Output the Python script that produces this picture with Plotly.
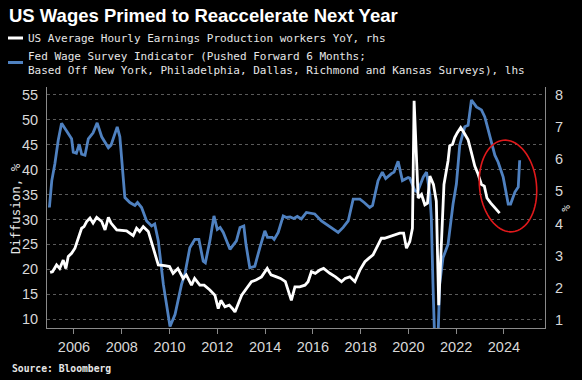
import numpy as np
import plotly.graph_objects as go

# ---- data (decimal years) ----
fed_t = [2004.97, 2005.07, 2005.20, 2005.34, 2005.48, 2005.62, 2005.83, 2005.90, 2005.97, 2006.10,
         2006.22, 2006.32, 2006.46, 2006.60, 2006.80, 2006.97, 2007.16, 2007.44, 2007.55, 2007.81,
         2007.92, 2008.13, 2008.34, 2008.55, 2008.66, 2008.83, 2009.04, 2009.25, 2009.38, 2009.53,
         2009.74, 2009.87, 2010.02, 2010.23, 2010.36, 2010.50, 2010.64, 2010.85, 2011.06, 2011.23,
         2011.41, 2011.50, 2011.69, 2011.86, 2012.00, 2012.12, 2012.25, 2012.53, 2012.80, 2012.95,
         2013.11, 2013.20, 2013.36, 2013.57, 2013.78, 2013.99, 2014.10, 2014.30, 2014.38, 2014.55,
         2014.76, 2014.90, 2015.05, 2015.20, 2015.35, 2015.52, 2015.73, 2016.08, 2016.36, 2016.55,
         2016.78, 2017.06, 2017.27, 2017.48, 2017.69, 2017.97, 2018.15, 2018.38, 2018.50, 2018.73,
         2018.91, 2019.05, 2019.29, 2019.40, 2019.57, 2019.75, 2019.99, 2020.06, 2020.27, 2020.38,
         2020.62, 2020.76, 2020.90, 2020.96, 2021.03, 2021.10, 2021.24, 2021.31, 2021.45, 2021.66,
         2021.87, 2022.01, 2022.15, 2022.36, 2022.50, 2022.64, 2022.85, 2023.06, 2023.20, 2023.41,
         2023.62, 2023.76, 2023.97, 2024.18, 2024.28, 2024.46, 2024.60, 2024.66]
fed_v = [32.4, 37.8, 41.2, 45.9, 49.3, 48.3, 46.9, 46.2, 43.5, 43.3,
         45.1, 43.1, 42.9, 46.2, 47.4, 49.4, 46.6, 44.4, 44.9, 48.6,
         46.6, 34.4, 33.4, 32.8, 33.4, 32.4, 29.7, 28.7, 29.1, 25.7,
         17.0, 13.0, 8.5, 10.9, 13.6, 16.9, 19.0, 24.3, 26.0, 26.0,
         21.6, 21.3, 25.7, 30.7, 28.0, 28.4, 27.4, 24.0, 25.7, 28.4,
         28.7, 25.0, 20.3, 20.6, 24.3, 27.7, 26.4, 26.4, 26.0, 27.4,
         30.7, 30.4, 30.5, 30.2, 30.6, 30.1, 31.4, 31.1, 29.7, 29.1,
         28.4, 27.4, 28.4, 29.7, 34.1, 34.1, 33.4, 32.4, 32.8, 37.8,
         39.5, 38.2, 39.2, 39.5, 41.7, 37.8, 38.4, 38.3, 35.8, 35.5,
         38.5, 39.5, 35.1, 30.4, 17.0, 6.0, 6.0, 17.0, 22.3, 25.0,
         33.1, 37.1, 44.9, 48.6, 48.9, 54.0, 52.6, 52.0, 50.6, 46.6,
         42.9, 41.5, 38.5, 33.1, 33.1, 35.5, 36.5, 41.9]

ahe_t = [2005.00, 2005.10, 2005.27, 2005.40, 2005.55, 2005.66, 2005.76, 2005.90, 2006.04, 2006.18,
         2006.32, 2006.42, 2006.53, 2006.67, 2006.80, 2006.95, 2007.16, 2007.30, 2007.44, 2007.55,
         2007.79, 2008.20, 2008.48, 2008.62, 2008.75, 2008.90, 2009.11, 2009.32, 2009.53, 2009.80,
         2010.00, 2010.15, 2010.35, 2010.57, 2010.70, 2010.92, 2011.05, 2011.27, 2011.45, 2011.69,
         2011.90, 2012.04, 2012.15, 2012.32, 2012.50, 2012.64, 2012.74, 2013.02, 2013.22, 2013.43,
         2013.62, 2013.85, 2014.09, 2014.25, 2014.48, 2014.65, 2014.85, 2014.97, 2015.10, 2015.25,
         2015.45, 2015.67, 2015.80, 2015.94, 2016.10, 2016.29, 2016.45, 2016.71, 2016.95, 2017.20,
         2017.35, 2017.55, 2017.76, 2017.97, 2018.18, 2018.35, 2018.52, 2018.73, 2018.87, 2019.00,
         2019.22, 2019.40, 2019.64, 2019.80, 2019.92, 2020.06, 2020.17, 2020.24, 2020.34, 2020.41,
         2020.55, 2020.69, 2020.80, 2020.90, 2021.05, 2021.17, 2021.27, 2021.38, 2021.49, 2021.66,
         2021.73, 2021.85, 2021.94, 2022.05, 2022.19, 2022.33, 2022.50, 2022.64, 2022.78, 2022.90,
         2023.06, 2023.18, 2023.29, 2023.45, 2023.68, 2023.82]
ahe_v = [2.48, 2.50, 2.71, 2.60, 2.86, 2.60, 2.97, 3.07, 3.23, 3.54,
         3.85, 3.90, 4.06, 4.17, 4.01, 4.19, 4.06, 3.80, 4.19, 4.01,
         3.80, 3.77, 3.62, 3.85, 3.75, 3.90, 3.75, 3.23, 2.71, 2.69,
         2.66, 2.45, 2.60, 2.29, 2.40, 2.08, 2.29, 2.08, 2.08, 1.93,
         1.77, 1.35, 1.61, 1.41, 1.46, 1.35, 1.25, 1.77, 1.98, 2.19,
         2.24, 2.34, 2.60, 2.40, 2.34, 2.29, 2.19, 1.88, 1.61, 2.03,
         2.03, 2.08, 2.19, 2.50, 2.45, 2.55, 2.60, 2.45, 2.34, 2.19,
         2.29, 2.34, 2.19, 2.55, 2.81, 2.92, 3.02, 3.33, 3.54, 3.54,
         3.60, 3.65, 3.70, 3.70, 3.23, 3.44, 3.85, 7.81, 6.25, 4.79,
         4.90, 4.58, 4.63, 5.47, 5.21, 4.69, 1.46, 3.13, 5.21, 5.94,
         6.41, 6.46, 6.67, 6.82, 6.98, 6.82, 6.60, 6.20, 5.78, 5.57,
         5.21, 5.16, 4.79, 4.63, 4.43, 4.32]

x_ticks = [2006, 2008, 2010, 2012, 2014, 2016, 2018, 2020, 2022, 2024]
left_ticks = [10, 15, 20, 25, 30, 35, 40, 45, 50, 55]
right_ticks = [1, 2, 3, 4, 5, 6, 7, 8]

W, H = 582, 380
L, R, T, B = 47, 545, 87, 328

BLUE = "#4f81c0"
TICKC = "#d8d8d8"
AXC = "#8a8a8a"

fig = go.Figure()
fig.add_trace(go.Scatter(x=fed_t, y=fed_v, mode="lines", yaxis="y",
                         line=dict(color=BLUE, width=2.8), showlegend=False))
fig.add_trace(go.Scatter(x=ahe_t, y=ahe_v, mode="lines", yaxis="y2",
                         line=dict(color="#ffffff", width=2.8), showlegend=False))

# red ellipse (pixel geometry -> paper)
cx, cy, a, b, phi = 508, 186, 46, 28.5, np.deg2rad(6)
th = np.linspace(0, 2*np.pi, 73)
u = b*np.cos(th); w = a*np.sin(th)
px = cx + u*np.cos(phi) + w*np.sin(phi)
py = cy - u*np.sin(phi) + w*np.cos(phi)
xp = (px - L)/(R - L); yp = (B - py)/(B - T)
path = "M " + " L ".join(f"{x:.4f},{y:.4f}" for x, y in zip(xp, yp)) + " Z"

def pxx(x):
    return (x - L)/(R - L)

def pxy(y):
    return (B - y)/(B - T)

shapes = [
    dict(type="path", path=path, xref="paper", yref="paper",
         line=dict(color="#e0191b", width=1.6)),
    dict(type="line", xref="paper", yref="paper", x0=pxx(8), x1=pxx(23),
         y0=pxy(38), y1=pxy(38), line=dict(color="#ffffff", width=3)),
    dict(type="line", xref="paper", yref="paper", x0=pxx(8), x1=pxx(23),
         y0=pxy(62.5), y1=pxy(62.5), line=dict(color=BLUE, width=3)),
]

mono = "DejaVu Sans Mono"
ann = [
    ("<b>US Wages Primed to Reaccelerate Next Year</b>", 7, 16, 0,
     dict(family="Liberation Sans, Arial", size=18.5, color="#ffffff"), "left"),
    ("US Average Hourly Earnings Production workers YoY, rhs", 26, 38, 0,
     dict(family=mono, size=11, color="#e6e6e6"), "left"),
    ("Fed Wage Survey Indicator (Pushed Forward 6 Months;", 26, 56.5, 0,
     dict(family=mono, size=11, color="#e6e6e6"), "left"),
    ("Based Off New York, Philadelphia, Dallas, Richmond and Kansas Surveys), lhs", 26, 70.5, 0,
     dict(family=mono, size=11, color="#e6e6e6"), "left"),
    ("<b>Source: Bloomberg</b>", 10, 368, 0,
     dict(family=mono, size=9.7, color="#e6e6e6"), "left"),
    ("Diffusion, %", 15, 209, -90,
     dict(family=mono, size=12.5, color="#e6e6e6"), "center"),
    ("%", 566, 208, 90,
     dict(family=mono, size=11, color="#e6e6e6"), "center"),
]
annotations = []
for text, x, y, ang, font, xa in ann:
    annotations.append(dict(text=text, x=pxx(x), y=pxy(y), xref="paper", yref="paper",
                            showarrow=False, xanchor=xa, yanchor="middle",
                            textangle=ang, font=font))

tickfont = dict(family="Liberation Sans, Arial", size=14.5, color=TICKC)

fig.update_layout(
    width=W, height=H,
    margin=dict(l=L, r=W-R, t=T, b=H-B, pad=0),
    paper_bgcolor="#000000", plot_bgcolor="#000000",
    shapes=shapes, annotations=annotations,
    xaxis=dict(range=[2004.87, 2025.72], tickvals=x_ticks, ticktext=[str(v) for v in x_ticks],
               showgrid=False, zeroline=False, showline=True, linecolor=AXC, linewidth=1,
               ticks="outside", ticklen=5, tickcolor=AXC, ticklabelstandoff=1,
               tickfont=tickfont),
    yaxis=dict(range=[8.2, 56.6], tickvals=left_ticks, showgrid=True, gridcolor="#5a5a5a",
               griddash="dot", gridwidth=1, zeroline=False, showline=True, linecolor=AXC,
               linewidth=1, ticks="", ticklabelstandoff=5, tickfont=tickfont),
    yaxis2=dict(range=[0.75, 8.24], tickvals=right_ticks, overlaying="y", side="right",
                showgrid=False, zeroline=False, showline=True, linecolor=AXC, linewidth=1,
                ticks="", ticklabelstandoff=6, tickfont=tickfont),
    showlegend=False,
)

fig.write_html("out.html", config={"displayModeBar": False},
               post_script="document.body.style.margin='0';document.body.style.background='#000';")
